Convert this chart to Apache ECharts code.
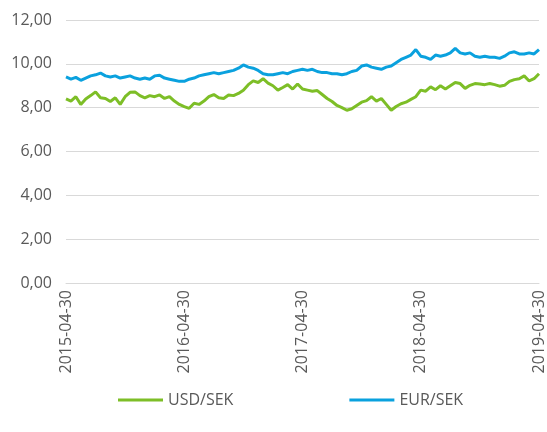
<!DOCTYPE html>
<html>
<head>
<meta charset="utf-8">
<script src="https://cdn.jsdelivr.net/npm/echarts@6/dist/echarts.min.js"></script>
<style>
html,body{margin:0;padding:0;background:#fff;}
#chart{width:547px;height:432px;}
</style>
</head>
<body>
<div id="chart"></div>
<script>
// Semi-monthly sample dates from 2015-04-30 to 2019-04-30
const dates = (function(){
  const out = [];
  const pad = n => (n < 10 ? '0' : '') + n;
  let y = 2015, m = 4;
  out.push('2015-04-30');
  while (out.length < 97) {
    m += 1; if (m > 12) { m = 1; y += 1; }
    out.push(y + '-' + pad(m) + '-15');
    const last = new Date(Date.UTC(y, m, 0)).getUTCDate();
    const d = (m === 4) ? 30 : last;
    out.push(y + '-' + pad(m) + '-' + pad(d));
  }
  return out.slice(0, 97);
})();

const usdSek = [
  8.40, 8.30, 8.50, 8.15, 8.40, 8.55, 8.72, 8.45, 8.42, 8.28,
  8.45, 8.15, 8.50, 8.70, 8.72, 8.55, 8.45, 8.55, 8.50, 8.58,
  8.42, 8.50, 8.30, 8.15, 8.05, 7.97, 8.20, 8.15, 8.30, 8.50,
  8.60, 8.45, 8.42, 8.58, 8.55, 8.65, 8.80, 9.05, 9.22, 9.15,
  9.32, 9.12, 9.00, 8.80, 8.92, 9.05, 8.85, 9.08, 8.85, 8.80,
  8.75, 8.78, 8.60, 8.42, 8.28, 8.10, 8.00, 7.88, 7.95, 8.10,
  8.25, 8.32, 8.50, 8.30, 8.42, 8.15, 7.88, 8.05, 8.18, 8.25,
  8.38, 8.50, 8.80, 8.75, 8.95, 8.82, 9.00, 8.85, 9.00, 9.15,
  9.10, 8.88, 9.02, 9.10, 9.08, 9.05, 9.10, 9.05, 8.98, 9.02,
  9.20, 9.28, 9.32, 9.45, 9.22, 9.32, 9.55
];

const eurSek = [
  9.40, 9.30, 9.38, 9.25, 9.35, 9.45, 9.50, 9.58, 9.45, 9.40,
  9.45, 9.35, 9.40, 9.45, 9.35, 9.30, 9.35, 9.30, 9.45, 9.48,
  9.35, 9.30, 9.25, 9.20, 9.20, 9.30, 9.35, 9.45, 9.50, 9.55,
  9.60, 9.55, 9.60, 9.65, 9.70, 9.80, 9.95, 9.85, 9.80, 9.70,
  9.55, 9.50, 9.50, 9.55, 9.60, 9.55, 9.65, 9.70, 9.75, 9.70,
  9.75, 9.65, 9.60, 9.60, 9.55, 9.55, 9.50, 9.55, 9.65, 9.70,
  9.90, 9.95, 9.85, 9.80, 9.75, 9.85, 9.90, 10.05, 10.20, 10.30,
  10.40, 10.65, 10.35, 10.30, 10.20, 10.40, 10.35, 10.40, 10.50, 10.70,
  10.50, 10.45, 10.50, 10.35, 10.30, 10.35, 10.30, 10.30, 10.25, 10.35,
  10.50, 10.55, 10.45, 10.45, 10.50, 10.45, 10.65
];

const seriesNames = ['USD/SEK', 'EUR/SEK'];
const yTicks = [0, 2, 4, 6, 8, 10, 12];

const chart = echarts.init(document.getElementById('chart'));
const font = '"Open Sans", "Noto Sans", sans-serif';
chart.setOption({
  animation: false,
  backgroundColor: '#ffffff',
  grid: { left: 66, right: 7, top: 20, bottom: 149, containLabel: false },
  legend: {
    data: seriesNames,
    left: 113,
    top: 387,
    icon: 'rect',
    itemWidth: 45,
    itemHeight: 3,
    itemGap: 116,
    textStyle: { color: '#595959', fontSize: 16, fontFamily: font }
  },
  xAxis: {
    type: 'category',
    data: dates,
    boundaryGap: false,
    axisLine: { show: true, lineStyle: { color: '#d9d9d9', width: 1 } },
    axisTick: { show: false },
    axisLabel: {
      interval: 23,
      rotate: 90,
      margin: 7,
      color: '#595959',
      fontSize: 16,
      fontFamily: font
    },
    splitLine: { show: false }
  },
  yAxis: {
    type: 'value',
    min: yTicks[0],
    max: yTicks[yTicks.length - 1],
    interval: 2,
    axisLine: { show: false },
    axisTick: { show: false },
    axisLabel: {
      margin: 14,
      color: '#595959',
      fontSize: 16,
      fontFamily: font,
      formatter: v => v.toFixed(2).replace('.', ',')
    },
    splitLine: { show: true, lineStyle: { color: '#d9d9d9', width: 1 } }
  },
  series: [
    {
      name: seriesNames[0],
      type: 'line',
      data: usdSek,
      showSymbol: false,
      symbol: 'none',
      lineStyle: { color: '#7dbe27', width: 3 },
      itemStyle: { color: '#7dbe27' }
    },
    {
      name: seriesNames[1],
      type: 'line',
      data: eurSek,
      showSymbol: false,
      symbol: 'none',
      lineStyle: { color: '#0aa1de', width: 3 },
      itemStyle: { color: '#0aa1de' }
    }
  ]
});
</script>
</body>
</html>
